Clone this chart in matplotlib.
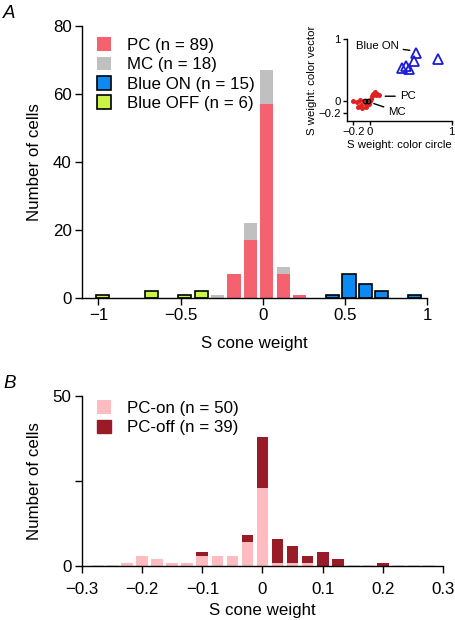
import matplotlib
matplotlib.use("Agg")
import matplotlib.pyplot as plt
import numpy as np

plt.rcParams['font.family'] = ['Liberation Sans', 'DejaVu Sans']
plt.rcParams['axes.linewidth'] = 1.0

# ---------------- Panel A data ----------------
pc_x = [-0.175, -0.075, 0.025, 0.125, 0.225]
pc_n = [7, 17, 57, 7, 1]
mc_x = [-0.275, -0.175, -0.075, 0.025, 0.125, 0.225]
mc_n = [1, 0, 5, 10, 2, 0]
blue_on_x = [0.425, 0.525, 0.625, 0.725, 0.925]
blue_on_n = [1, 7, 4, 2, 1]
blue_off_x = [-0.975, -0.675, -0.475, -0.375]
blue_off_n = [1, 2, 1, 2]

# inset data
tri_x = [0.567, 0.83, 0.542, 0.397, 0.445, 0.485]
tri_y = [0.77, 0.676, 0.653, 0.535, 0.556, 0.513]
dot_x = [-0.2, -0.153, -0.121, -0.105, -0.064, -0.04, -0.024, 0.0, 0.016, 0.041,
         0.061, 0.073, 0.114, -0.089, -0.145, -0.049, -0.008, 0.033, 0.09]
dot_y = [-0.005, -0.027, 0.005, -0.08, -0.005, -0.049, -0.016, -0.005, 0.027, 0.113,
         0.135, 0.092, 0.092, -0.124, -0.102, -0.102, -0.06, 0.07, 0.1]
mc_dot_x = [-0.055, -0.024]
mc_dot_y = [-0.005, -0.005]

# ---------------- Panel B data ----------------
b_x = [-0.275, -0.25, -0.225, -0.2, -0.175, -0.15, -0.125, -0.1, -0.075, -0.05, -0.025,
       0.0, 0.025, 0.05, 0.075, 0.1, 0.125, 0.15, 0.175, 0.2, 0.225, 0.25, 0.275]
pc_on = [0, 0, 1, 3, 2, 1, 1, 3, 3, 3, 7, 23, 1, 1, 1, 0, 0, 0, 0, 0, 0, 0, 0]
pc_off = [0, 0, 0, 0, 0, 0, 0, 1, 0, 0, 2, 15, 7, 5, 2, 4, 2, 0, 0, 1, 0, 0, 0]

C_PC = '#F4626F'
C_MC = '#C0C0C0'
C_ON = '#0A8AF2'
C_OFF = '#CBF446'
C_PCON = '#FFBCC0'
C_PCOFF = '#9A1B28'

W, H = 456, 620
fig = plt.figure(figsize=(W / 100, H / 100), dpi=100)

FS = 12.2
IFS = 8.2

def style(ax, pad=2.5):
    ax.spines['top'].set_visible(False)
    ax.spines['right'].set_visible(False)
    ax.tick_params(direction='out', length=5, width=1.0, labelsize=FS, pad=pad)

leg_kw = dict(loc='upper left', frameon=False, fontsize=FS, handlelength=0.85,
              handleheight=0.85, handletextpad=0.95, labelspacing=0.22,
              borderpad=0, borderaxespad=0)

# ---------------- Panel A ----------------
axA = fig.add_axes([82 / W, 1 - 298 / H, (427 - 82) / W, (298 - 26) / H])
bw = 0.08
axA.bar(pc_x, pc_n, width=bw, color=C_PC, linewidth=0, label='PC (n = 89)')
mc_bottom = [pc_n[pc_x.index(x)] if x in pc_x else 0 for x in mc_x]
axA.bar(mc_x, mc_n, width=bw, bottom=mc_bottom, color=C_MC, linewidth=0, label='MC (n = 18)')
axA.bar(blue_on_x, blue_on_n, width=bw, color=C_ON, edgecolor='black', linewidth=1.2,
        label='Blue ON (n = 15)')
axA.bar(blue_off_x, blue_off_n, width=bw, color=C_OFF, edgecolor='black', linewidth=1.2,
        label='Blue OFF (n = 6)')
axA.set_xlim(-1.1, 1.0)
axA.set_ylim(0, 80)
axA.set_xticks([-1, -0.5, 0, 0.5, 1])
axA.set_xticklabels(['\u22121', '\u22120.5', '0', '0.5', '1'])
axA.set_yticks([0, 20, 40, 60, 80])
style(axA)
axA.set_xlabel('S cone weight', fontsize=FS, labelpad=9)
axA.set_ylabel('Number of cells', fontsize=FS)
axA.yaxis.set_label_coords(-0.115, 0.5)
axA.legend(bbox_to_anchor=(0.043, 0.958), **leg_kw)
axA.text(-0.229, 1.045, 'A', transform=axA.transAxes, fontsize=13.5, style='italic',
         ha='left', va='center')

# ---------------- Inset ----------------
axI = fig.add_axes([346.7 / W, 1 - 120.7 / H, 105 / W, 81.4 / H])
axI.plot(tri_x, tri_y, linestyle='none', marker='^', markersize=6.5, markerfacecolor='none',
         markeredgecolor='#1C1CD8', markeredgewidth=1.3)
axI.plot(dot_x, dot_y, linestyle='none', marker='o', markersize=3.6, color='#E02222',
         markeredgewidth=0)
axI.plot(mc_dot_x, mc_dot_y, linestyle='none', marker='o', markersize=3.2,
         markerfacecolor='none', markeredgecolor='black', markeredgewidth=0.9)
axI.set_xlim(-0.28, 1.0)
axI.set_ylim(-0.33, 1.0)
axI.set_xticks([-0.2, 0, 1])
axI.set_xticklabels(['\u22120.2', '0', '1'])
axI.set_yticks([-0.2, 0, 1])
axI.set_yticklabels(['\u22120.2', '0', '1'])
axI.spines['top'].set_visible(False)
axI.spines['right'].set_visible(False)
axI.tick_params(direction='out', length=3, width=1.0, labelsize=IFS, pad=1.5)
axI.set_xlabel('S weight: color circle', fontsize=IFS, labelpad=2)
axI.set_ylabel('S weight: color vector', fontsize=IFS, labelpad=1)
lw_ann = dict(arrowstyle='-', color='black', lw=1.0, shrinkA=1.5, shrinkB=0)
axI.annotate('Blue ON', xy=(0.49, 0.82), xytext=(0.35, 0.89), ha='right', va='center',
             fontsize=IFS, arrowprops=lw_ann)
axI.annotate('PC', xy=(0.19, 0.07), xytext=(0.37, 0.07), ha='left', va='center',
             fontsize=IFS, arrowprops=lw_ann)
axI.annotate('MC', xy=(0.05, -0.05), xytext=(0.23, -0.18), ha='left', va='center',
             fontsize=IFS, arrowprops=lw_ann)

# ---------------- Panel B ----------------
axB = fig.add_axes([82 / W, 1 - 566 / H, (443 - 82) / W, (566 - 396) / H])
bwB = 0.0195
axB.bar(b_x, pc_on, width=bwB, color=C_PCON, linewidth=0, label='PC-on (n = 50)')
off_lw = [1.0 if (a == 0 and b == 0) else 0 for a, b in zip(pc_on, pc_off)]
axB.bar(b_x, pc_off, width=bwB, bottom=pc_on, color=C_PCOFF, edgecolor=C_PCOFF,
        linewidth=off_lw, label='PC-off (n = 39)')
axB.set_xlim(-0.3, 0.3)
axB.set_ylim(0, 50)
axB.set_xticks([-0.3, -0.2, -0.1, 0, 0.1, 0.2, 0.3])
axB.set_xticklabels(['\u22120.3', '\u22120.2', '\u22120.1', '0', '0.1', '0.2', '0.3'])
axB.set_yticks([0, 25, 50])
axB.set_yticklabels(['0', '', '50'])
style(axB)
axB.tick_params(axis='x', pad=6.5)
axB.set_xlabel('S cone weight', fontsize=FS, labelpad=4)
axB.set_ylabel('Number of cells', fontsize=FS)
axB.yaxis.set_label_coords(-0.11, 0.5)
axB.legend(bbox_to_anchor=(0.041, 0.975), **leg_kw)
axB.text(-0.219, 1.076, 'B', transform=axB.transAxes, fontsize=13.5, style='italic',
         ha='left', va='center')

fig.savefig('out.png', dpi=100)
